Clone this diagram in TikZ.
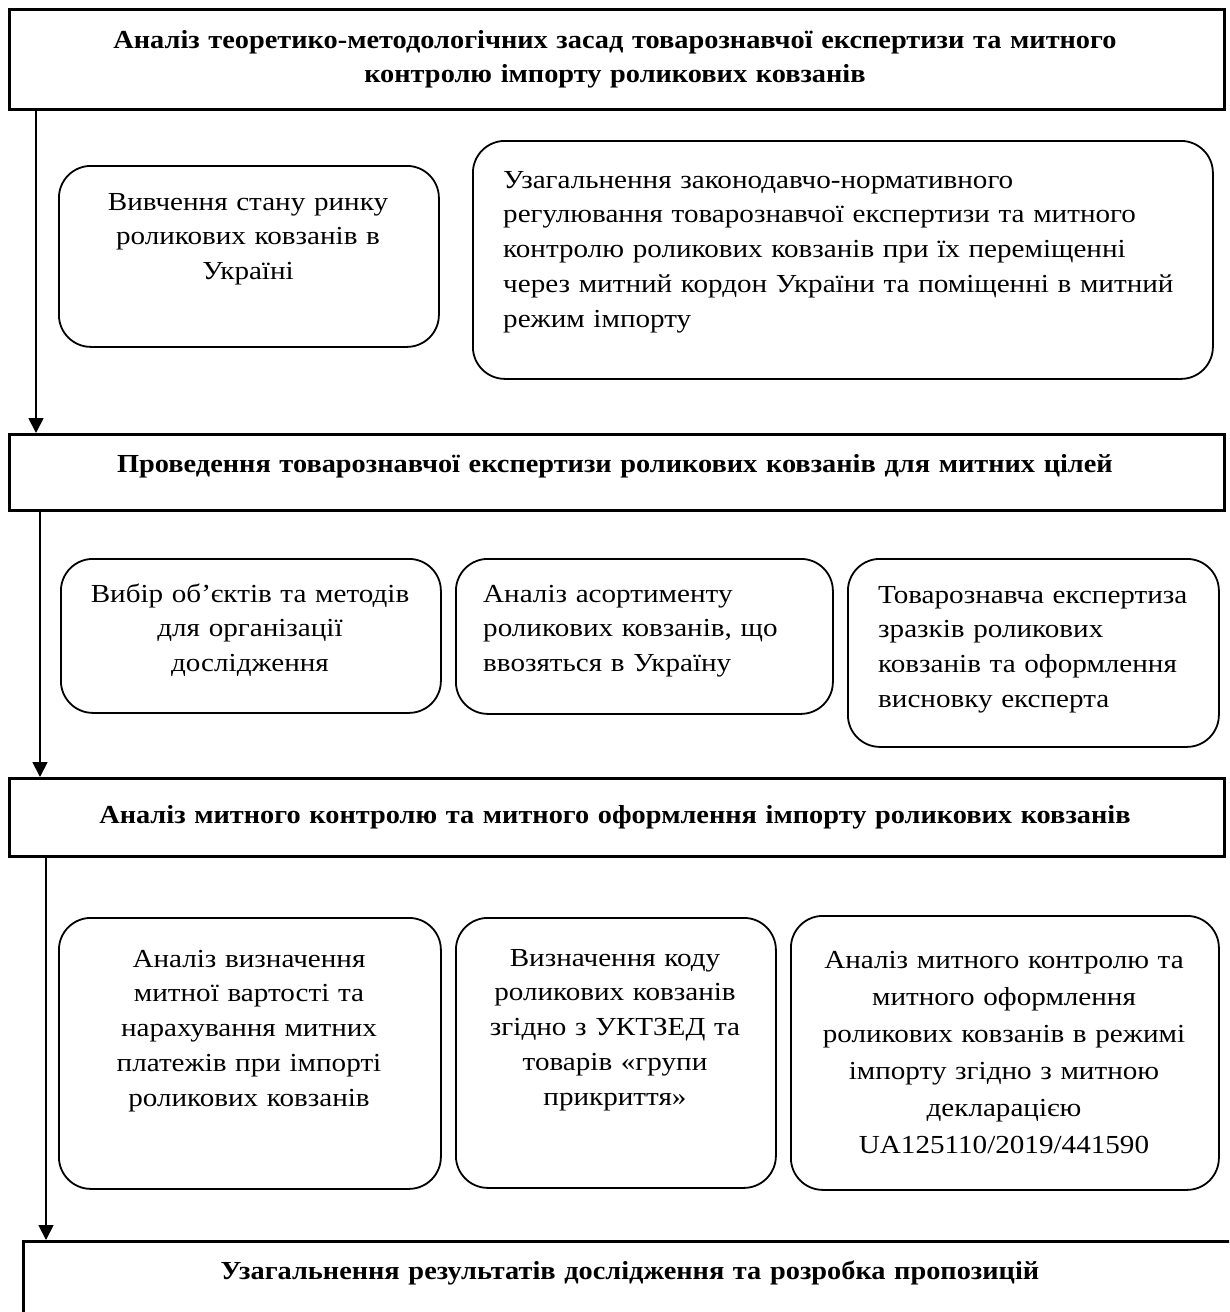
\documentclass[tikz,border=0pt]{standalone}
\usepackage{fontspec}
\setmainfont{Liberation Serif}[FakeStretch=1.12, BoldFeatures={FakeStretch=1.09}]
\usetikzlibrary{arrows.meta}

\begin{document}
\begin{tikzpicture}[x=1pt, y=-1pt,
    stage/.style={draw, line width=2.6pt, anchor=north west, inner sep=0pt},
    task/.style={draw, line width=1.8pt, rounded corners=32pt, anchor=north west, inner sep=0pt},
    headtxt/.style={anchor=base, inner sep=0pt, align=center, font=\bfseries\fontsize{26}{34.8}\selectfont},
    ctxt/.style={anchor=base, inner sep=0pt, align=center, font=\fontsize{26}{34.8}\selectfont},
    ltxt/.style={anchor=base west, inner sep=0pt, align=left, font=\fontsize{26}{34.8}\selectfont},
    flow/.style={line width=1.8pt, -{Triangle[width=15pt,length=15pt]}}]

    % page frame
    \useasboundingbox (0,0) rectangle (1229,1312);
    \clip (0,0) rectangle (1229,1312);

    % First stage
    \node[stage, minimum width=1215, minimum height=100] (analiz) at (8,8) {};
    \node[headtxt, text width=1200] (analiz-t) at (615,48)
        {Аналіз теоретико-методологічних засад товарознавчої експертизи та митного\\
         контролю імпорту роликових ковзанів};

    % tasks of the first stage
    \node[task, minimum width=380, minimum height=181] (rynok) at (58,165) {};
    \node[ctxt, text width=360] (rynok-t) at (248,210)
        {Вивчення стану ринку\\ роликових ковзанів в\\ Україні};
    \node[task, minimum width=740, minimum height=238] (zakon) at (472,140) {};
    \node[ltxt, text width=710] (zakon-t) at (503,188)
        {Узагальнення законодавчо-нормативного\\
         регулювання товарознавчої експертизи та митного\\
         контролю роликових ковзанів при їх переміщенні\\
         через митний кордон України та поміщенні в митний\\
         режим імпорту};

    % Second stage
    \node[stage, minimum width=1215, minimum height=76] (proved) at (8,433) {};
    \node[headtxt, text width=1200] (proved-t) at (615,472)
        {Проведення товарознавчої експертизи роликових ковзанів для митних цілей};

    % tasks of the second stage
    \node[task, minimum width=380, minimum height=154] (vybir) at (60,558) {};
    \node[ctxt, text width=370] (vybir-t) at (250,602)
        {Вибір об’єктів та методів\\ для організації\\ дослідження};
    \node[task, minimum width=377, minimum height=155] (asort) at (455,558) {};
    \node[ltxt, text width=345] (asort-t) at (483,602)
        {Аналіз асортименту\\ роликових ковзанів, що\\ ввозяться в Україну};
    \node[task, minimum width=371, minimum height=188] (zrazok) at (847,558) {};
    \node[ltxt, text width=340] (zrazok-t) at (878,603)
        {Товарознавча експертиза\\ зразків роликових\\ ковзанів та оформлення\\ висновку експерта};

    % Third stage
    \node[stage, minimum width=1215, minimum height=78] (mytn) at (8,777) {};
    \node[headtxt, text width=1200] (mytn-t) at (615,823)
        {Аналіз митного контролю та митного оформлення імпорту роликових ковзанів};

    % tasks of the third stage
    \node[task, minimum width=382, minimum height=271] (vartist) at (58,917) {};
    \node[ctxt, text width=370] (vartist-t) at (249,967)
        {Аналіз визначення\\ митної вартості та\\ нарахування митних\\ платежів при імпорті\\ роликових ковзанів};
    \node[task, minimum width=320, minimum height=270] (kod) at (455,917) {};
    \node[ctxt, text width=310] (kod-t) at (615,966)
        {Визначення коду\\ роликових ковзанів\\ згідно з УКТЗЕД та\\ товарів «групи\\ прикриття»};
    \node[task, minimum width=428, minimum height=274] (deklar) at (790,915) {};
    \node[ctxt, text width=420, font=\fontsize{26}{37}\selectfont] (deklar-t) at (1004,968)
        {Аналіз митного контролю та\\ митного оформлення\\ роликових ковзанів в режимі\\
         імпорту згідно з митною\\ декларацією\\ UA125110/2019/441590};

    % Last stage
    \node[stage, minimum width=1230, minimum height=120] (vysnov) at (22,1240) {};
    \node[headtxt, text width=1200] (vysnov-t) at (630,1279)
        {Узагальнення результатів дослідження та розробка пропозицій};

    % arrows between the stages
    \draw[flow] ([xshift=28pt]analiz.south west) -- ([xshift=28pt]proved.north west);
    \draw[flow] ([xshift=32pt]proved.south west) -- ([xshift=32pt]mytn.north west);
    \draw[flow] ([xshift=38pt]mytn.south west) -- ([xshift=24pt]vysnov.north west);
\end{tikzpicture}
\end{document}
